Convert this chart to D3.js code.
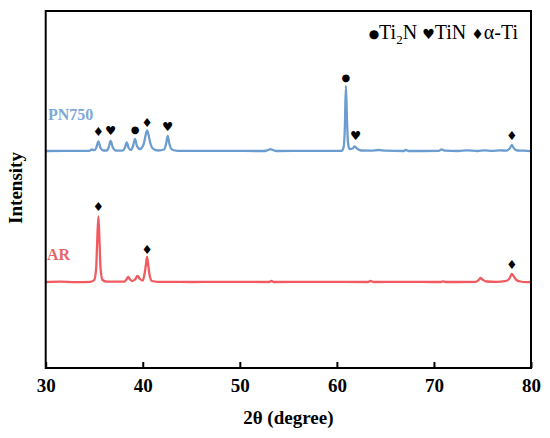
<!DOCTYPE html>
<html>
<head>
<meta charset="utf-8">
<script src="https://cdn.jsdelivr.net/npm/d3@7"></script>
<style>
  body { margin: 0; background: #fff; }
  svg { display: block; }
  text { font-family: "Liberation Serif", "Times New Roman", serif; }
</style>
</head>
<body>
<svg class="vis" width="550" height="438"></svg>
<script>
// 2θ / intensity points (a.u., offset curves)
const ar_theta = [30, 31.5, 33, 34.6, 35.0, 35.2, 35.3, 35.43, 35.55, 35.65, 35.85, 36.3, 38.1, 38.35, 38.5, 38.65, 38.9, 39.2, 39.47, 39.7, 40.0, 40.2, 40.35, 40.44, 40.55, 40.7, 40.95, 41.5, 45, 50, 53.0, 53.25, 53.5, 58, 63.2, 63.46, 63.8, 67, 70.7, 70.9, 71.2, 74.3, 74.6, 74.8, 75.0, 75.4, 76.5, 77.3, 77.7, 77.9, 78.03, 78.2, 78.5, 78.9, 79.5, 80];
const ar_int   = [86, 86.4, 85.9, 86.2, 88, 100, 125, 151.5, 125, 100, 88, 86.3, 86.3, 89, 91, 89, 87, 88.5, 92, 89, 87.5, 95, 105, 111, 104, 93, 87, 86.2, 86, 86.2, 86, 87, 86, 86.1, 86, 87, 86, 86.2, 86, 86.7, 86, 86.2, 88, 90, 88.5, 86.5, 86.2, 86.8, 88.5, 92, 94, 92, 88, 86.5, 85.8, 86];

const pn_theta = [30, 32, 34.5, 34.75, 35.0, 35.2, 35.43, 35.65, 35.95, 36.3, 36.5, 36.69, 36.9, 37.2, 37.9, 38.15, 38.35, 38.55, 38.8, 39.0, 39.2, 39.4, 39.7, 40.1, 40.3, 40.44, 40.6, 40.8, 41.1, 41.6, 42.2, 42.4, 42.57, 42.75, 43.0, 43.6, 48, 52.6, 52.9, 53.14, 53.4, 53.8, 57, 60.5, 60.7, 60.82, 60.93, 61.05, 61.15, 61.3, 61.6, 61.84, 62.1, 62.5, 63.5, 64.3, 65, 66.9, 67.1, 67.4, 70.5, 70.8, 71.1, 72.5, 73.4, 74.5, 75.2, 76.0, 76.8, 77.5, 77.8, 78.03, 78.25, 78.6, 79.3, 80];
const pn_int   = [217, 217.2, 217.1, 218.5, 217.8, 220, 226.5, 220, 217.5, 217.5, 221, 227, 221, 217.5, 217.3, 220, 225.5, 220, 218, 222, 229, 222, 219, 224, 233, 237.5, 233, 224, 219, 217.5, 218.5, 224, 232, 224, 218.5, 217.2, 217.1, 217, 218, 218.8, 218, 217, 217.2, 217.2, 221, 240, 282, 245, 225, 219, 219.5, 221.5, 219.3, 217.5, 217.4, 218, 217.3, 217, 218.2, 217, 217.2, 218.6, 217.3, 217, 217.6, 217, 217.6, 217.2, 217.6, 217.4, 219.5, 223, 219.5, 217.5, 217.3, 216.8];

// phase markers: 2θ, level, glyph
const mk_theta = [35.43, 40.44, 78.03, 35.43, 36.69, 39.2, 40.44, 42.57, 60.93, 61.94, 78.03];
const mk_int   = [162, 118.7, 104, 236.3, 238, 238.7, 245.3, 242, 290.7, 233, 233];
const mk_sym   = ["\u2666", "\u2666", "\u2666", "\u2666", "\u2665", "\u25CF", "\u2666", "\u2665", "\u25CF", "\u2665", "\u2666"];

const x_ticks = [30, 40, 50, 60, 70, 80];

const v = {

    m : { left: 45.7, right: 531, top: 11, bottom: 368 },

    draw : () => {

        const svg = d3.select('svg.vis');
        const m = v.m;

        const x = d3.scaleLinear().domain([30, 80]).range([m.left, m.right]);
        const y = d3.scaleLinear().domain([0, m.bottom - m.top]).range([m.bottom, m.top]);

        const line = d3.line()
          .x(d => x(d[0]))
          .y(d => y(d[1]))
          .curve(d3.curveMonotoneX);

        const ar = ar_theta.map((t, i) => [t, ar_int[i]]);
        const pn = pn_theta.map((t, i) => [t, pn_int[i]]);

        svg.append("path")
          .datum(pn)
          .attr("fill", "none")
          .attr("stroke", "#6c9dd0")
          .attr("stroke-width", 2.3)
          .attr("d", line);

        svg.append("path")
          .datum(ar)
          .attr("fill", "none")
          .attr("stroke", "#f05a60")
          .attr("stroke-width", 2.3)
          .attr("d", line);

        // markers
        svg.append("g")
          .selectAll("text")
          .data(mk_theta)
          .join("text")
          .attr("x", d => x(d))
          .attr("y", (d, i) => y(mk_int[i]))
          .attr("text-anchor", "middle")
          .attr("dominant-baseline", "central")
          .style("font-family", "'DejaVu Sans', sans-serif")
          .attr("font-size", (d, i) => mk_sym[i] == "\u25CF" ? 10 : 12.5)
          .text((d, i) => mk_sym[i]);

        // frame
        svg.append("rect")
          .attr("x", m.left)
          .attr("y", m.top)
          .attr("width", m.right - m.left)
          .attr("height", m.bottom - m.top)
          .attr("fill", "none")
          .attr("stroke", "black")
          .attr("stroke-width", 2);

        const ax = svg.append("g")
          .attr("transform", `translate(0,${m.bottom})`)
          .call(d3.axisBottom(x).tickValues(x_ticks).tickSize(-6).tickPadding(11).tickFormat(d3.format("d")));

        ax.select(".domain").remove();
        ax.selectAll("line").attr("stroke", "black").attr("stroke-width", 2);
        ax.selectAll("text")
          .attr("fill", "black")
          .style("font-family", "'Liberation Serif', serif")
          .attr("font-size", 19)
          .attr("font-weight", "bold");

        // axis titles
        svg.append("text")
          .attr("x", (m.left + m.right) / 2)
          .attr("y", 424)
          .attr("text-anchor", "middle")
          .attr("font-size", 19)
          .attr("font-weight", "bold")
          .text("2\u03B8 (degree)");

        svg.append("text")
          .attr("transform", "translate(22,188) rotate(-90)")
          .attr("text-anchor", "middle")
          .attr("font-size", 19)
          .attr("font-weight", "bold")
          .text("Intensity");

        // series labels
        svg.append("text")
          .attr("x", 48)
          .attr("y", 120)
          .attr("font-size", 16)
          .attr("font-weight", "bold")
          .attr("fill", "#7ea9d6")
          .text("PN750");

        svg.append("text")
          .attr("x", 47)
          .attr("y", 260)
          .attr("font-size", 16)
          .attr("font-weight", "bold")
          .attr("fill", "#e8666b")
          .text("AR");

        // legend
        const lg = svg.append("text")
          .attr("x", 518)
          .attr("y", 39)
          .attr("text-anchor", "end")
          .attr("font-size", 20);

        lg.append("tspan").style("font-family", "'DejaVu Sans', sans-serif").attr("font-size", 12).attr("dy", -1).text("\u25CF");
        lg.append("tspan").attr("dy", 1).text("Ti");
        lg.append("tspan").attr("font-size", 13).attr("dy", 5).text("2");
        lg.append("tspan").attr("dy", -5).text("N ");
        lg.append("tspan").style("font-family", "'DejaVu Sans', sans-serif").attr("font-size", 14).text("\u2665");
        lg.append("tspan").text("TiN ");
        lg.append("tspan").style("font-family", "'DejaVu Sans', sans-serif").attr("font-size", 14).text("\u2666");
        lg.append("tspan").text("\u03B1-Ti");

    }

};

v.draw();
</script>
</body>
</html>
